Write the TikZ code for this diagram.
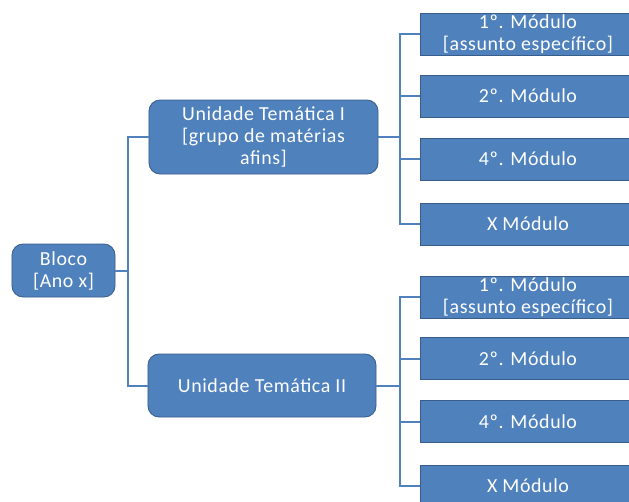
\documentclass[tikz,border=0pt]{standalone}
\usepackage{fontspec}
\newfontfamily\boxfont[LetterSpace=3]{Carlito}
\definecolor{boxblue}{RGB}{79,129,189}
\definecolor{boxedge}{RGB}{56,93,138}
\tikzset{
  box/.style={draw=boxedge, fill=boxblue, text=white, line width=0.7pt,
    align=center, inner sep=1pt, font=\boxfont\fontsize{17}{18.8}\selectfont},
  roundbox/.style={box, rounded corners=0.33cm},
  modbox/.style={box, minimum width=6.48cm, minimum height=1.26cm},
  link/.style={draw=boxblue, line width=1.7pt}
}
\begin{document}
\begin{tikzpicture}[x=0.03cm, y=-0.03cm]
    \useasboundingbox (0,0) rectangle (629,501);
    \clip (0,0) rectangle (629,501);

    % Bloco
    \node[roundbox, minimum width=3.09cm, minimum height=1.59cm] (bloco) at (63.5,270.5) {Bloco\\{[Ano x]}};

    % Unidades
    \node[roundbox, minimum width=6.87cm, minimum height=2.22cm] (u1) at (263.5,137) {Unidade Temática I\\{[grupo de matérias}\\afins]};
    \node[roundbox, minimum width=6.84cm, minimum height=1.89cm] (u2) at (262,385.5) {Unidade Temática II};

    \draw[link] (bloco.east) -- ++(13,0) |- (u1.west);
    \draw[link] (bloco.east) -- ++(13,0) |- (u2.west);

    % Modulos
    \foreach \g/\u/\ya/\yb/\yc/\yd in {a/u1/34/96/159/224, b/u2/297/358.5/421.5/486} {
        \node[modbox] (m\g1) at (528,\ya) {1º. Módulo\\{[assunto específico]}};
        \node[modbox] (m\g2) at (528,\yb) {2º. Módulo};
        \node[modbox] (m\g3) at (528,\yc) {4º. Módulo};
        \node[modbox] (m\g4) at (528,\yd) {X Módulo};
        \foreach \i in {1,...,4} {
            \draw[link] (\u.east) -- (400,0 |- \u.east) |- (m\g\i.west);
        }
    }
\end{tikzpicture}
\end{document}
